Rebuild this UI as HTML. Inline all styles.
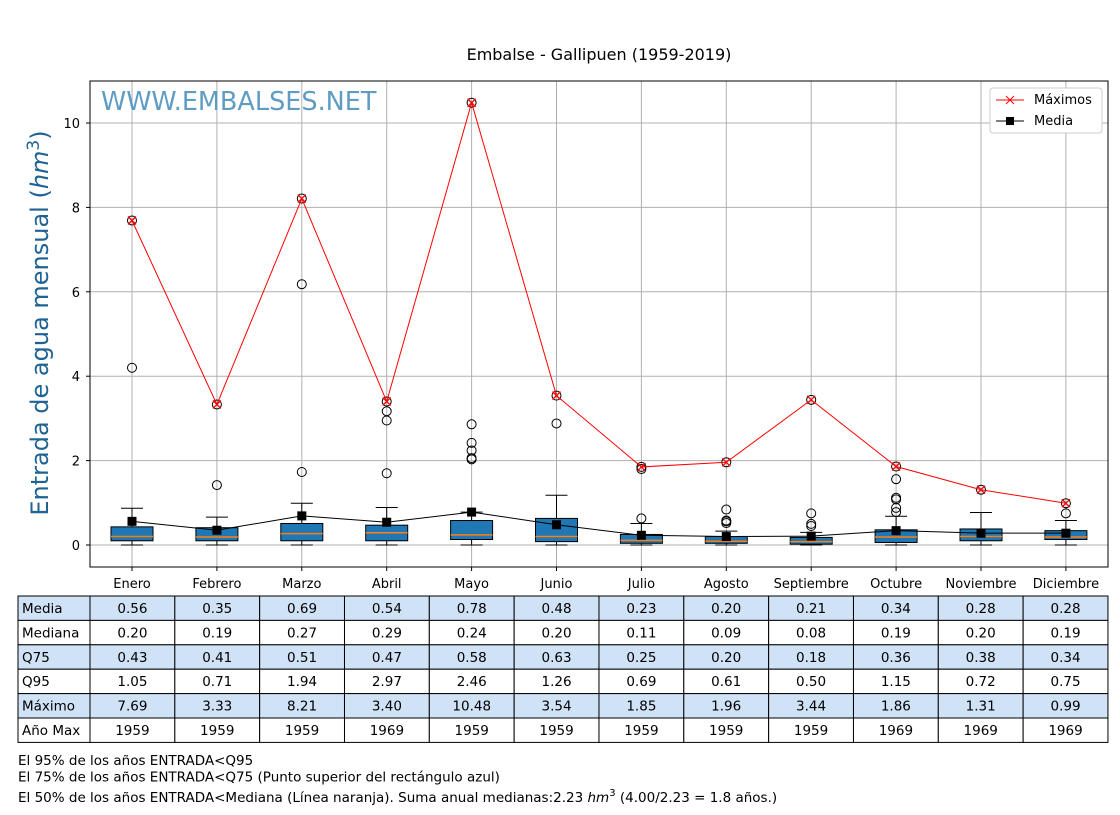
<!DOCTYPE html>
<html><head><meta charset="utf-8"><style>
body{margin:0;background:#fff;width:1120px;height:810px;overflow:hidden;font-family:"Liberation Sans","DejaVu Sans",sans-serif}
svg text{font-family:"DejaVu Sans","Liberation Sans",sans-serif}
</style></head><body>
<svg id="c" width="1120" height="810"></svg>
<script>
const months=["Enero","Febrero","Marzo","Abril","Mayo","Junio","Julio","Agosto","Septiembre","Octubre","Noviembre","Diciembre"];
const media=[0.56,0.35,0.69,0.54,0.78,0.48,0.23,0.20,0.21,0.34,0.28,0.28];
const mediana=[0.20,0.19,0.27,0.29,0.24,0.20,0.11,0.09,0.08,0.19,0.20,0.19];
const q25=[0.10,0.10,0.10,0.10,0.13,0.08,0.04,0.04,0.02,0.06,0.10,0.13];
const q75=[0.43,0.41,0.51,0.47,0.58,0.63,0.25,0.20,0.18,0.36,0.38,0.34];
const whiskHi=[0.87,0.66,0.99,0.89,0.78,1.18,0.51,0.33,0.30,0.68,0.77,0.58];
const q95=[1.05,0.71,1.94,2.97,2.46,1.26,0.69,0.61,0.50,1.15,0.72,0.75];
const maximo=[7.69,3.33,8.21,3.40,10.48,3.54,1.85,1.96,3.44,1.86,1.31,0.99];
const anoMax=[1959,1959,1959,1969,1959,1959,1959,1959,1959,1969,1969,1969];
const outliers=[[4.2,7.69],[1.42,3.33],[1.73,6.18,8.21],[1.70,2.95,3.17,3.40],[2.03,2.06,2.24,2.42,2.86,10.48],[2.88,3.54],[0.63,1.80,1.85],[0.52,0.56,0.58,0.84,1.96],[0.45,0.50,0.75,3.44],[0.78,0.88,1.08,1.12,1.56,1.86],[1.31],[0.75,0.99]];
const yTicks=[0,2,4,6,8,10];

const svg=document.getElementById('c');const NS='http://www.w3.org/2000/svg';
function el(t,a,p){const e=document.createElementNS(NS,t);for(const k in a)e.setAttribute(k,a[k]);(p||svg).appendChild(e);return e;}
const L=90,R=1108,T=81,B=567;
const xs=i=>132+i*84.9;
const ys=v=>545-v*42.2;
let t=el('text',{x:599,y:60,'text-anchor':'middle','font-size':16});t.textContent='Embalse - Gallipuen (1959-2019)';

el('rect',{x:L,y:T,width:R-L,height:B-T,fill:'#fff'});
const grid=el('g',{stroke:'#b0b0b0','stroke-width':1});

months.forEach((m,i)=>el('line',{x1:xs(i),x2:xs(i),y1:T,y2:B},grid));
yTicks.forEach(v=>{el('line',{x1:L,x2:R,y1:ys(v),y2:ys(v)},grid);
 const tt=el('text',{x:80,y:ys(v)+5,'text-anchor':'end','font-size':13});tt.textContent=v;
 
 el('line',{x1:L-4,x2:L,y1:ys(v),y2:ys(v),stroke:'#000'});});
months.forEach((m,i)=>{el('line',{x1:xs(i),x2:xs(i),y1:B,y2:B+4,stroke:'#000'});
 const tt=el('text',{x:xs(i),y:588,'text-anchor':'middle','font-size':13});tt.textContent=m;
 });
let wm=el('text',{x:101,y:110,'font-size':25.5,fill:'#5f9cc4'});wm.textContent='WWW.EMBALSES.NET';

months.forEach((m,i)=>{const g=el('g',{});
 
 const x=xs(i);
 el('line',{x1:x,x2:x,y1:ys(0),y2:ys(q25[i]),stroke:'#000'},g);
 el('line',{x1:x,x2:x,y1:ys(q75[i]),y2:ys(whiskHi[i]),stroke:'#000'},g);
 el('line',{x1:x-11,x2:x+11,y1:ys(0),y2:ys(0),stroke:'#000'},g);
 el('line',{x1:x-11,x2:x+11,y1:ys(whiskHi[i]),y2:ys(whiskHi[i]),stroke:'#000'},g);
 el('rect',{x:x-21,y:ys(q75[i]),width:42,height:ys(q25[i])-ys(q75[i]),fill:'#1f77b4',stroke:'#000'},g);
 el('line',{x1:x-21,x2:x+21,y1:ys(mediana[i]),y2:ys(mediana[i]),stroke:'#ff7f0e','stroke-width':1.5},g);
 outliers[i].forEach(v=>{const c=el('circle',{cx:x,cy:ys(v),r:4.5,fill:'none',stroke:'#000'},g);
  });
});
const mp=maximo.map((v,i)=>xs(i)+','+ys(v)).join(' ');
const ml=el('polyline',{points:mp,fill:'none',stroke:'#f00','stroke-width':1});

maximo.forEach((v,i)=>{const x=xs(i),y=ys(v);const g=el('g',{stroke:'#f00','stroke-width':1.3});
 
 el('line',{x1:x-4,y1:y-4,x2:x+4,y2:y+4},g);el('line',{x1:x-4,y1:y+4,x2:x+4,y2:y-4},g);});
const mp2=media.map((v,i)=>xs(i)+','+ys(v)).join(' ');
const al=el('polyline',{points:mp2,fill:'none',stroke:'#000','stroke-width':1});

media.forEach((v,i)=>{const r=el('rect',{x:xs(i)-4.5,y:ys(v)-4.5,width:9,height:9,fill:'#000'});
 });
el('rect',{x:L,y:T,width:R-L,height:B-T,fill:'none',stroke:'#000'});
const lg=el('g',{});
el('rect',{x:990,y:88,width:112,height:45,rx:3,fill:'#fff',stroke:'#ccc'},lg);
el('line',{x1:996,x2:1024,y1:100,y2:100,stroke:'#f00'},lg);
el('line',{x1:1006,y1:96,x2:1014,y2:104,stroke:'#f00'},lg);el('line',{x1:1006,y1:104,x2:1014,y2:96,stroke:'#f00'},lg);
let lt=el('text',{x:1034,y:104,'font-size':13},lg);lt.textContent='Máximos';
el('line',{x1:996,x2:1024,y1:121,y2:121,stroke:'#000'},lg);
el('rect',{x:1006,y:117,width:8,height:8,fill:'#000'},lg);
lt=el('text',{x:1034,y:125,'font-size':13},lg);lt.textContent='Media';
let yl=el('text',{transform:'translate(48,323) rotate(-90)','text-anchor':'middle','font-size':24,fill:'#1f6394'});
yl.innerHTML='Entrada de agua mensual (<tspan font-style="italic">hm</tspan><tspan dy="-9" font-size="17">3</tspan><tspan dy="9">)</tspan>';

const rows=[["Media",media.map(v=>v.toFixed(2))],["Mediana",mediana.map(v=>v.toFixed(2))],["Q75",q75.map(v=>v.toFixed(2))],["Q95",q95.map(v=>v.toFixed(2))],["Máximo",maximo.map(v=>v.toFixed(2))],["Año Max",anoMax.map(String)]];
const tb=el('g',{});
rows.forEach((r,ri)=>{const y=596+ri*24.4;const fill=ri%2==0?'#d0e2f6':'#fff';
 el('rect',{x:18,y:y,width:72,height:24.4,fill:fill,stroke:'#000'},tb);
 let tx=el('text',{x:22,y:y+17,'font-size':13.5},tb);tx.textContent=r[0];
 r[1].forEach((v,i)=>{const x=90+i*84.83;el('rect',{x:x,y:y,width:84.83,height:24.4,fill:fill,stroke:'#000'},tb);
  const c=el('text',{x:x+42.4,y:y+17,'text-anchor':'middle','font-size':13.5},tb);c.textContent=v;});});
const notes=['El 95% de los años ENTRADA<Q95','El 75% de los años ENTRADA<Q75 (Punto superior del rectángulo azul)'];
notes.forEach((n,i)=>{const tx=el('text',{x:18,y:765+i*16.5,'font-size':13.5});tx.textContent=n;
 });
const n3=el('text',{x:18,y:802,'font-size':13.5});
n3.innerHTML='El 50% de los años ENTRADA&lt;Mediana (Línea naranja). Suma anual medianas:2.23 <tspan font-style="italic">hm</tspan><tspan dy="-6" font-size="10">3</tspan><tspan dy="6"> (4.00/2.23 = 1.8 años.)</tspan>';

</script>
</body></html>
